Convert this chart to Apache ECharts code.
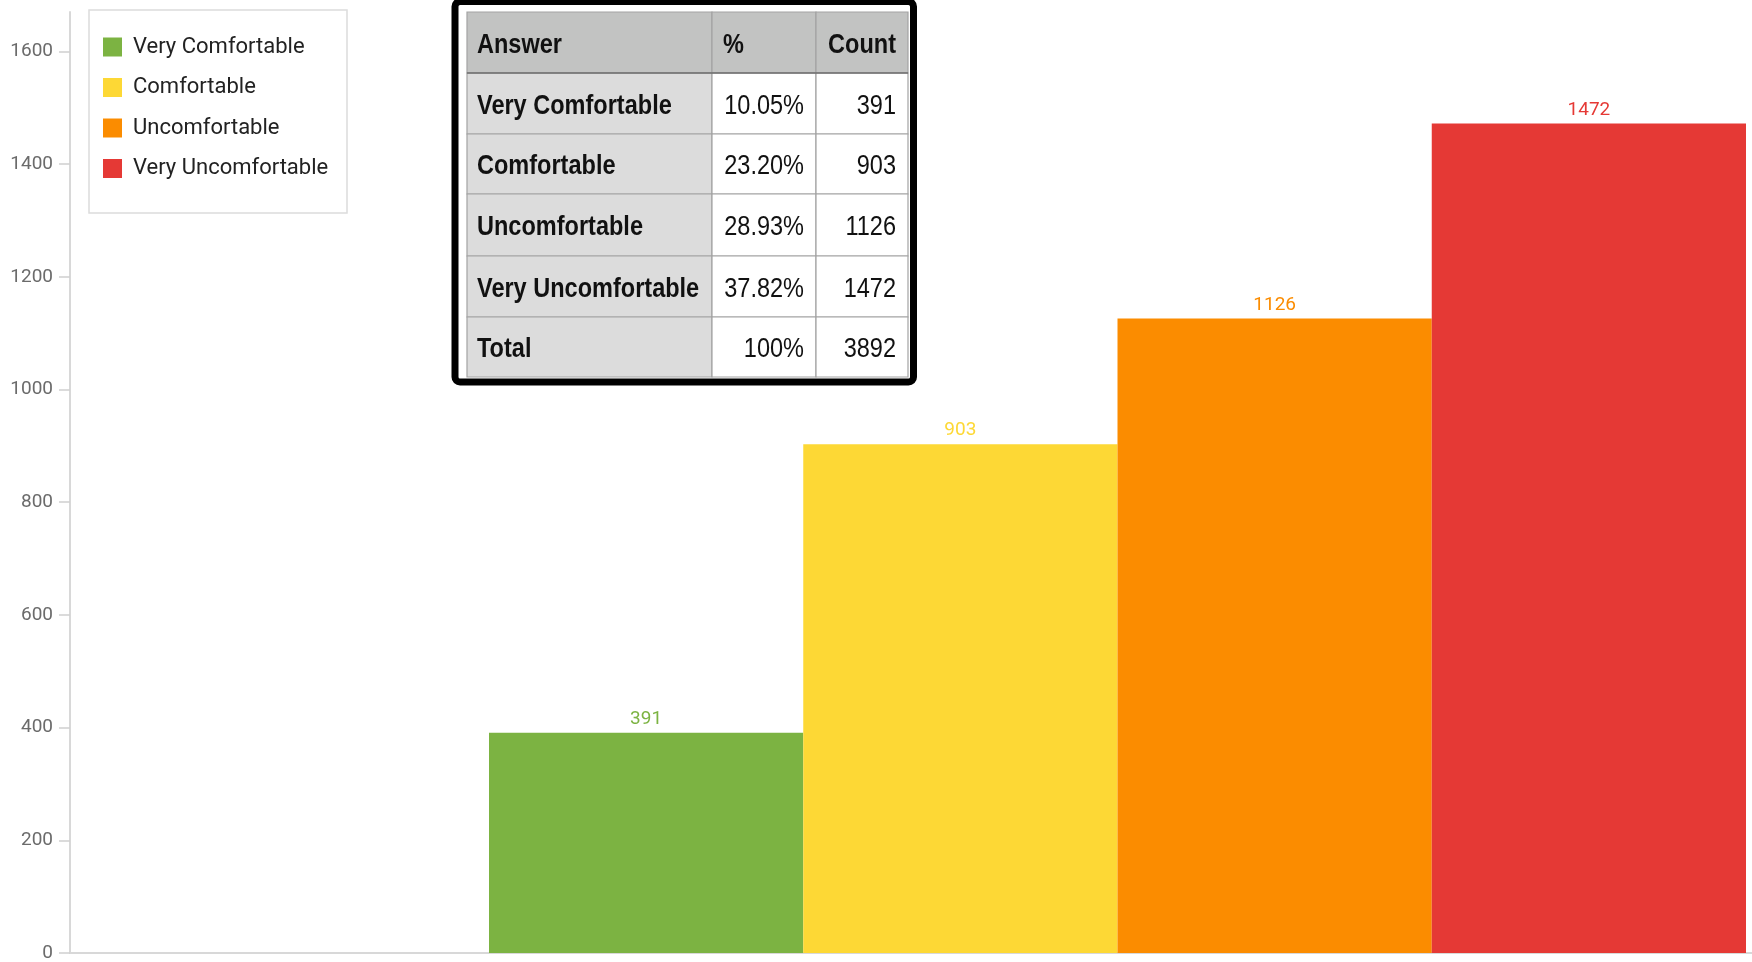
<!DOCTYPE html>
<html>
<head>
<meta charset="utf-8">
<script src="https://cdn.jsdelivr.net/npm/echarts@6/dist/echarts.min.js"></script>
<style>
  html, body { margin: 0; padding: 0; background: #fff; }
  #chart { width: 1752px; height: 962px; }
</style>
</head>
<body>
<div id="chart"></div>
<script>
// Survey answers and their counts
const answers = ['Very Comfortable', 'Comfortable', 'Uncomfortable', 'Very Uncomfortable'];
const counts = [391, 903, 1126, 1472];
const percents = ['10.05%', '23.20%', '28.93%', '37.82%'];
const totalLabel = 'Total';
const totalPercent = '100%';
const tableHeader = ['Answer', '%', 'Count'];
const colors = ['#7cb342', '#fdd835', '#fb8c00', '#e53935'];
const yTicks = [0, 200, 400, 600, 800, 1000, 1200, 1400, 1600];
const yMax = 1670;

const FONT = "Roboto, 'Liberation Sans', sans-serif";
const TABLE_FONT = "'Liberation Sans', Arial, sans-serif";
const totalCount = counts.reduce((a, b) => a + b, 0);

// Summary table drawn as graphic elements (condensed by a horizontal scale)
function buildTable() {
  const colX = [467, 712, 816, 908];
  const rowY = [12, 73, 134, 194, 256, 317, 377];
  const squeeze = 0.84;
  const rows = [tableHeader];
  answers.forEach((a, i) => rows.push([a, percents[i], String(counts[i])]));
  rows.push([totalLabel, totalPercent, String(totalCount)]);

  const children = [];
  // outer frame
  children.push({
    type: 'rect',
    shape: { x: 455, y: 1.5, width: 458.5, height: 380.5, r: 5 },
    style: { fill: '#fff', stroke: '#000', lineWidth: 7 }
  });
  rows.forEach((row, r) => {
    for (let c = 0; c < 3; c++) {
      let fill = '#fff';
      if (r === 0) fill = '#c2c3c2';
      else if (c === 0) fill = '#dcdcdc';
      children.push({
        type: 'rect',
        shape: { x: colX[c], y: rowY[r], width: colX[c + 1] - colX[c], height: rowY[r + 1] - rowY[r] },
        style: { fill: fill, stroke: '#a3a3a3', lineWidth: 1.2 }
      });
    }
  });
  rows.forEach((row, r) => {
    for (let c = 0; c < 3; c++) {
      const cy = (rowY[r] + rowY[r + 1]) / 2 + 2.5;
      const bold = r === 0 || c === 0;
      let x, align;
      if (c === 0) { x = colX[0] + 10; align = 'left'; }
      else if (r === 0 && c === 1) { x = colX[1] + 11; align = 'left'; }
      else { x = colX[c + 1] - 12; align = 'right'; }
      children.push({
        type: 'text',
        x: x, y: cy, scaleX: squeeze,
        style: {
          text: row[c], x: 0, y: 0,
          textAlign: align, textVerticalAlign: 'middle',
          fontFamily: TABLE_FONT, fontSize: 28, fontWeight: bold ? 'bold' : 'normal',
          fill: '#111'
        }
      });
    }
  });
  // darker rule under the header
  children.push({
    type: 'line',
    shape: { x1: colX[0], y1: rowY[1], x2: colX[3], y2: rowY[1] },
    style: { stroke: '#6e6e6e', lineWidth: 1.5 }
  });
  return { type: 'group', z: 100, children: children };
}

const chart = echarts.init(document.getElementById('chart'), null, { renderer: 'canvas' });

const option = {
  animation: false,
  backgroundColor: '#fff',
  color: colors,
  grid: { left: 70, top: 12, bottom: 9, width: 2095, containLabel: false, outerBoundsMode: 'none' },
  legend: {
    data: answers,
    orient: 'vertical',
    left: 103,
    top: 34.5,
    padding: 0,
    itemWidth: 19,
    itemHeight: 19,
    itemGap: 15.5,
    icon: 'rect',
    textStyle: { fontFamily: FONT, fontSize: 22, color: '#222', lineHeight: 25, padding: [0, 0, 0, 6] }
  },
  xAxis: {
    type: 'category',
    data: [''],
    axisLine: { show: true, lineStyle: { color: '#d8d8d8', width: 2 } },
    axisTick: { show: false },
    axisLabel: { show: false },
    splitLine: { show: false }
  },
  yAxis: {
    type: 'value',
    min: 0,
    max: yMax,
    axisLine: { show: true, lineStyle: { color: '#d8d8d8', width: 2 } },
    axisTick: { show: true, length: 11, customValues: yTicks, lineStyle: { color: '#d0d0d0', width: 1.5 } },
    axisLabel: {
      customValues: yTicks,
      formatter: (v) => String(v),
      color: '#6b6b6b', fontFamily: FONT, fontSize: 19, margin: 17
    },
    splitLine: { show: false }
  },
  series: answers.map((name, i) => ({
    name: name,
    type: 'bar',
    data: [counts[i]],
    barWidth: 314.25,
    barGap: '0%',
    itemStyle: { color: colors[i] },
    label: {
      show: true,
      position: 'top',
      distance: 4,
      color: colors[i],
      fontFamily: FONT,
      fontSize: 19
    }
  })),
  graphic: [
    {
      type: 'rect',
      z: 0,
      shape: { x: 89, y: 10, width: 258, height: 203 },
      style: { fill: 'none', stroke: '#dcdcdc', lineWidth: 1.5 }
    },
    buildTable()
  ]
};

chart.setOption(option);
</script>
</body>
</html>
